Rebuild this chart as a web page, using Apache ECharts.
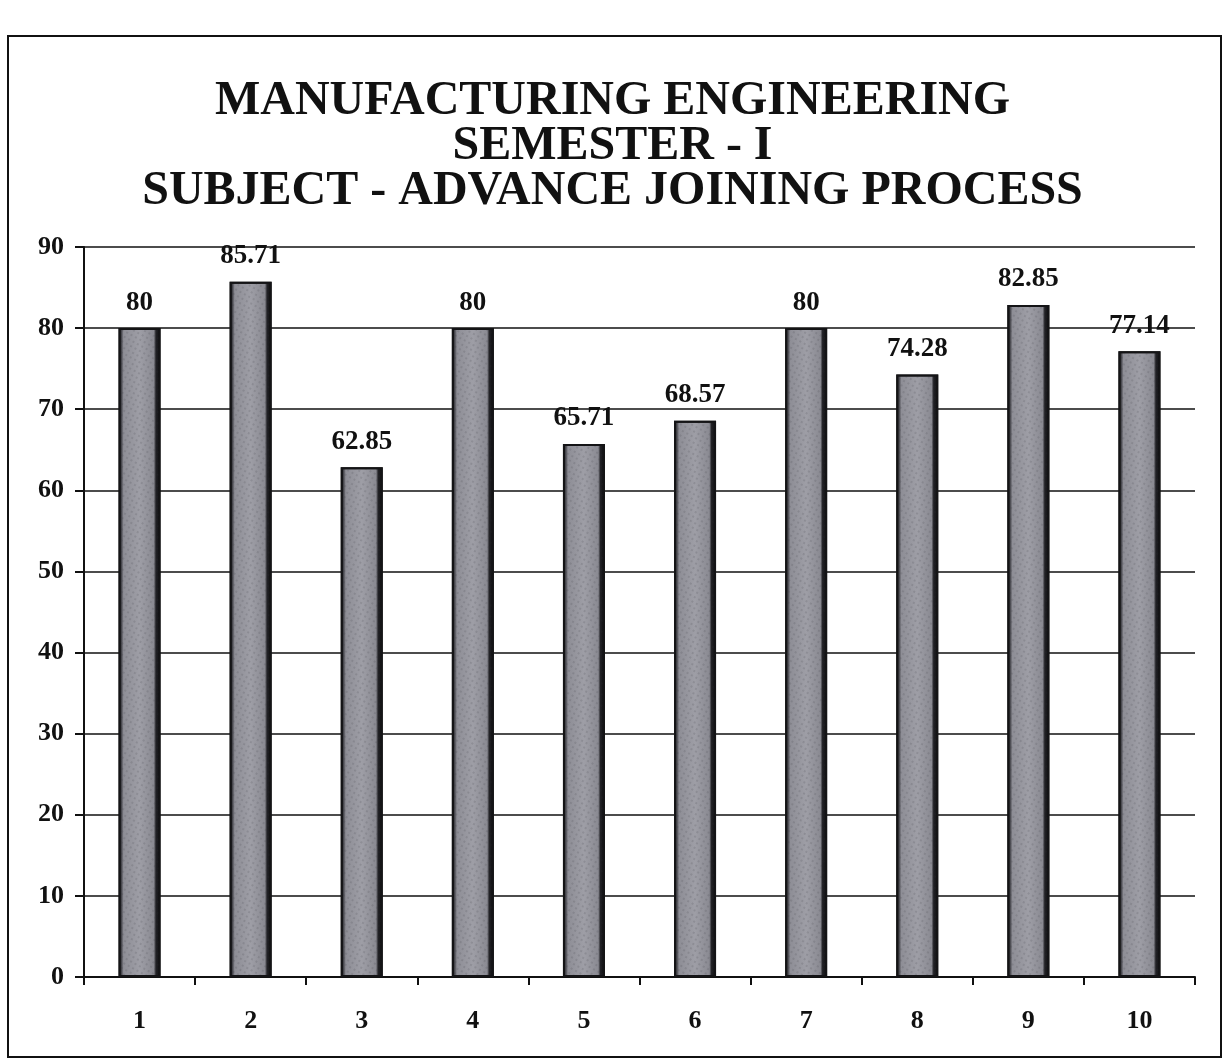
<!DOCTYPE html>
<html>
<head>
<meta charset="utf-8">
<title>Manufacturing Engineering – Semester I</title>
<script src="https://cdn.jsdelivr.net/npm/echarts@6/dist/echarts.min.js"></script>
<style>
  html, body { margin: 0; padding: 0; background: #ffffff; }
  #chart { width: 1225px; height: 1061px; }
</style>
</head>
<body>
<div id="chart"></div>
<script>
// Result percentages per unit for the Advance Joining Process subject
const categories = ['1', '2', '3', '4', '5', '6', '7', '8', '9', '10'];
const passPercent = [80, 85.71, 62.85, 80, 65.71, 68.57, 80, 74.28, 82.85, 77.14];
const yTicks = { min: 0, max: 90, interval: 10 };
const titleLines = [
  'MANUFACTURING ENGINEERING',
  'SEMESTER - I',
  'SUBJECT - ADVANCE JOINING PROCESS'
];

const serif = '"Liberation Serif", "DejaVu Serif", serif';

// Bar face: dark left rim, light grey body, heavy black right rim
const barFill = new echarts.graphic.LinearGradient(0, 0, 1, 0, [
  { offset: 0.00, color: '#2a2a2e' },
  { offset: 0.07, color: '#48484e' },
  { offset: 0.12, color: '#8e8e96' },
  { offset: 0.50, color: '#9e9ea6' },
  { offset: 0.84, color: '#8a8a92' },
  { offset: 0.89, color: '#222226' },
  { offset: 1.00, color: '#0c0c0e' }
]);

const chart = echarts.init(document.getElementById('chart'), null, { renderer: 'canvas' });

chart.setOption({
  backgroundColor: '#ffffff',
  animation: false,
  title: {
    text: titleLines.join('\n'),
    left: 'center',
    top: 74,
    textStyle: {
      fontFamily: serif,
      fontWeight: 'bold',
      fontSize: 48,
      lineHeight: 45,
      color: '#111111'
    }
  },
  graphic: [{
    type: 'rect',
    shape: { x: 8, y: 36, width: 1213, height: 1021 },
    style: { fill: 'none', stroke: '#111111', lineWidth: 2 },
    silent: true,
    z: -1
  }],
  grid: {
    left: 84,
    right: 30,
    top: 247,
    bottom: 84,
    containLabel: false
  },
  xAxis: {
    type: 'category',
    data: categories,
    boundaryGap: true,
    axisLine: { show: true, lineStyle: { color: '#111111', width: 2 } },
    axisTick: { show: true, alignWithLabel: false, length: 8, lineStyle: { color: '#111111', width: 2 } },
    axisLabel: {
      margin: 31,
      fontFamily: serif,
      fontWeight: 'bold',
      fontSize: 26,
      color: '#111111'
    },
    splitLine: { show: false }
  },
  yAxis: {
    type: 'value',
    min: yTicks.min,
    max: yTicks.max,
    interval: yTicks.interval,
    axisLine: { show: true, lineStyle: { color: '#111111', width: 2 } },
    axisTick: { show: true, inside: false, length: 9, lineStyle: { color: '#111111', width: 2 } },
    axisLabel: {
      margin: 20,
      fontFamily: serif,
      fontWeight: 'bold',
      fontSize: 26,
      color: '#111111'
    },
    splitLine: { show: true, lineStyle: { color: '#111111', width: 1.6 } }
  },
  series: [{
    type: 'bar',
    data: passPercent,
    barWidth: 42,
    itemStyle: {
      color: barFill,
      borderColor: '#141416',
      borderWidth: 2,
      decal: {
        symbol: 'rect',
        symbolSize: 0.7,
        dashArrayX: [2, 3],
        dashArrayY: [2, 3],
        rotation: 0.5,
        color: 'rgba(50, 50, 60, 0.28)'
      }
    },
    label: {
      show: true,
      position: 'top',
      distance: 12,
      fontFamily: serif,
      fontWeight: 'bold',
      fontSize: 27,
      color: '#111111',
      formatter: p => String(p.value)
    }
  }]
});
</script>
</body>
</html>
